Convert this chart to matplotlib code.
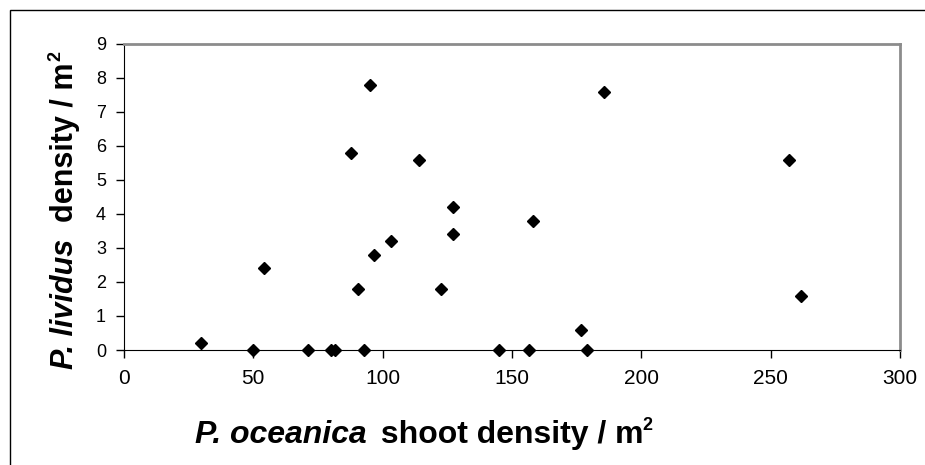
import matplotlib
matplotlib.use('Agg')
import matplotlib.pyplot as plt
from matplotlib.patches import Rectangle

# densites
shoot_density = [29.7, 49.8, 54.1, 71.2, 80.0, 81.5, 87.9, 90.4, 92.9, 95.0, 96.8,
                 103.4, 113.9, 122.4, 127.2, 127.2, 145.0, 156.6, 158.0, 176.5,
                 179.0, 185.4, 257.1, 261.6]
lividus_density = [0.2, 0.0, 2.4, 0.0, 0.0, 0.0, 5.8, 1.8, 0.0, 7.8, 2.8,
                   3.2, 5.6, 1.8, 4.2, 3.4, 0.0, 0.0, 3.8, 0.6,
                   0.0, 7.6, 5.6, 1.6]
x_ticks = [0, 50, 100, 150, 200, 250, 300]
y_ticks = [0, 1, 2, 3, 4, 5, 6, 7, 8, 9]

plt.rcParams['font.family'] = ['Liberation Sans', 'DejaVu Sans']

W, H = 925, 465
fig = plt.figure(figsize=(W / 100, H / 100), dpi=100)
ax = fig.add_axes([124 / W, 1 - 350 / H, (900 - 124) / W, (350 - 44) / H])

ax.plot(shoot_density, lividus_density, linestyle='none', marker='D',
        markersize=6.3, color='black', clip_on=False, zorder=5)

ax.set_xlim(0, 300)
ax.set_ylim(0, 9)
ax.set_xticks(x_ticks)
ax.set_yticks(y_ticks)
ax.tick_params(axis='x', direction='out', length=6, width=1, labelsize=15, pad=8)
ax.tick_params(axis='y', direction='out', length=6, width=1, labelsize=13, pad=7)

ax.spines['left'].set_color('black')
ax.spines['bottom'].set_color('black')
ax.spines['top'].set_color('#8c8c8c')
ax.spines['right'].set_color('#8c8c8c')
ax.spines['top'].set_linewidth(2)
ax.spines['right'].set_linewidth(2)

# titre axe x : morceaux gras / gras italique
tx1 = fig.text(195 / W, 1 - 443 / H, 'P. oceanica', fontsize=23,
               fontweight='bold', fontstyle='italic', ha='left', va='baseline')
tx2 = ax.annotate(' shoot density / m', xy=(1, 0), xycoords=tx1,
                  xytext=(4, 0), textcoords='offset points',
                  ha='left', va='bottom', fontsize=23, fontweight='bold')
ax.annotate('2', xy=(1, 1), xycoords=tx2, xytext=(-1, 2), textcoords='offset points',
            ha='left', va='top', fontsize=13, fontweight='bold')

# titre axe y
ty1 = fig.text(80 / W, 1 - 369 / H, 'P. lividus', fontsize=22, fontweight='bold',
               fontstyle='italic', rotation=90, ha='right', va='bottom')
ty2 = ax.annotate('  density / m', xy=(1, 1), xycoords=ty1, ha='right', va='bottom',
                  fontsize=22, fontweight='bold', rotation=90)
ax.annotate('2', xy=(0, 1), xycoords=ty2, xytext=(-2, 1), textcoords='offset points',
            ha='left', va='bottom', fontsize=13, fontweight='bold', rotation=90)

# cadre exterieur
fig.patches.append(Rectangle((10 / W, -0.1), 1.2, 1 - 10 / H + 0.1,
                             transform=fig.transFigure, fill=False,
                             edgecolor='black', linewidth=1))

fig.savefig('out.png', dpi=100)
